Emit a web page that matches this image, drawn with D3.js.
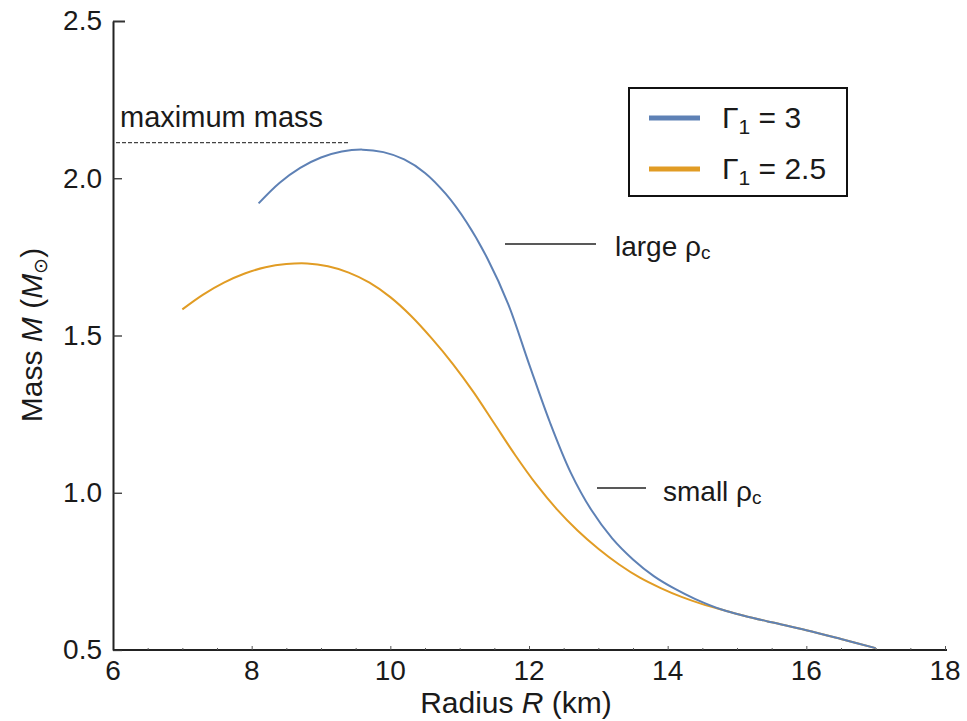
<!DOCTYPE html>
<html>
<head>
<meta charset="utf-8">
<script src="https://cdn.jsdelivr.net/npm/d3@7"></script>
<style>
  body { margin: 0; background: #fff; }
  text { font-family: "Liberation Sans", Arial, sans-serif; fill: #1a1a1a; }
</style>
</head>
<body>
<script>
// mass-radius curves
const gamma3R = [8.1, 8.4, 8.7, 9.0, 9.3, 9.6, 9.9, 10.2, 10.5, 10.8, 11.1, 11.4, 11.7, 12.0, 12.3, 12.6, 12.9, 13.2, 13.5, 13.8, 14.1, 14.4, 14.8, 15.1, 15.5, 16.0, 16.5, 17.0];
const gamma3M = [1.92, 1.985, 2.033, 2.066, 2.085, 2.091, 2.083, 2.06, 2.017, 1.95, 1.86, 1.745, 1.60, 1.41, 1.225, 1.065, 0.945, 0.855, 0.788, 0.735, 0.695, 0.662, 0.627, 0.609, 0.588, 0.563, 0.535, 0.506];

const gamma25R = [7.0, 7.3, 7.6, 7.9, 8.2, 8.5, 8.8, 9.1, 9.4, 9.7, 10.0, 10.3, 10.6, 10.9, 11.2, 11.5, 11.8, 12.1, 12.4, 12.7, 13.0, 13.3, 13.6, 13.9, 14.2, 14.5, 14.8, 15.1, 15.5, 16.0, 16.5, 17.0];
const gamma25M = [1.583, 1.63, 1.668, 1.697, 1.717, 1.727, 1.729, 1.72, 1.70, 1.668, 1.622, 1.562, 1.49, 1.41, 1.32, 1.22, 1.12, 1.028, 0.948, 0.88, 0.822, 0.772, 0.73, 0.697, 0.669, 0.646, 0.627, 0.609, 0.588, 0.563, 0.535, 0.506];

const xTicks = [6, 8, 10, 12, 14, 16, 18];
const yTicks = [0.5, 1.0, 1.5, 2.0, 2.5];
const maxMass = 2.113;

const width = 967, height = 721;
const x = d3.scaleLinear().domain([6, 18]).range([113, 945]);
const y = d3.scaleLinear().domain([0.5, 2.5]).range([650, 21]);

const svg = d3.select("body").append("svg")
    .attr("width", width)
    .attr("height", height);

// axes
const xAxis = svg.append("g").attr("transform", `translate(0, ${y(0.5)})`);
xAxis.call(d3.axisBottom(x).tickValues(d3.range(6, 18.01, 0.5)).tickSizeInner(-2).tickSizeOuter(0).tickFormat(""));
xAxis.selectAll(".tick line").filter(d => d % 2 === 0).attr("y2", -4);
xAxis.select(".domain").attr("stroke", "#222").attr("stroke-width", 2).attr("d", `M${x(6)},0H${x(18) + 2}`);
xAxis.selectAll(".tick line").attr("stroke", "#555");
xAxis.selectAll(".lbl").data(xTicks).enter().append("text")
    .attr("x", d => x(d))
    .attr("y", 30)
    .attr("text-anchor", "middle")
    .style("font-size", "28px")
    .text(d => d);

const yAxis = svg.append("g").attr("transform", `translate(${x(6)}, 0)`);
yAxis.call(d3.axisLeft(y).tickValues(yTicks).tickSize(-9).tickSizeOuter(0).tickFormat(d3.format(".1f")));
yAxis.select(".domain").attr("stroke", "#222").attr("stroke-width", 2);
yAxis.selectAll(".tick line").attr("stroke", "#333").attr("stroke-width", 1.3);
yAxis.selectAll(".tick text")
    .attr("x", -11)
    .style("font-size", "28px")
    .style("font-family", "'Liberation Sans', Arial, sans-serif")
    .attr("fill", "#1a1a1a");
yAxis.selectAll(".tick").filter(d => d === 2.5).select("line").attr("x2", 12).attr("stroke-width", 2);

// axis titles
const xt = svg.append("text")
    .attr("x", 516)
    .attr("y", 713)
    .attr("text-anchor", "middle")
    .style("font-size", "30px");
xt.append("tspan").text("Radius ");
xt.append("tspan").style("font-style", "italic").text("R");
xt.append("tspan").text(" (km)");

const yt = svg.append("text")
    .attr("transform", "translate(42, 335) rotate(-90)")
    .attr("text-anchor", "middle")
    .style("font-size", "30px");
yt.append("tspan").text("Mass ");
yt.append("tspan").style("font-style", "italic").text("M");
yt.append("tspan").text(" (");
yt.append("tspan").style("font-style", "italic").text("M");
yt.append("tspan").attr("dy", 5).style("font-size", "19px").text("\u2299");
yt.append("tspan").attr("dy", -5).text(")");

// curves
const line = d3.line().x(d => x(d[0])).y(d => y(d[1])).curve(d3.curveCatmullRom);
svg.append("path")
    .datum(d3.zip(gamma25R, gamma25M))
    .attr("d", line)
    .attr("fill", "none")
    .attr("stroke", "#e19c24")
    .attr("stroke-width", 2);
svg.append("path")
    .datum(d3.zip(gamma3R, gamma3M))
    .attr("d", line)
    .attr("fill", "none")
    .attr("stroke", "#5e81b5")
    .attr("stroke-width", 2);

// maximum mass marker
svg.append("line")
    .attr("x1", x(6) + 3).attr("x2", 350)
    .attr("y1", y(maxMass)).attr("y2", y(maxMass))
    .attr("stroke", "#444")
    .attr("stroke-width", 1.2)
    .attr("stroke-dasharray", "4,2");
svg.append("text")
    .attr("x", 120).attr("y", 127)
    .style("font-size", "29px")
    .text("maximum mass");

// central density annotations
const notes = [
    {label: "large ", x1: 505, x2: 596, ly: 244, tx: 615, ty: 256},
    {label: "small ", x1: 597, x2: 646, ly: 488, tx: 663, ty: 501}
];
notes.forEach(n => {
    svg.append("line")
        .attr("x1", n.x1).attr("x2", n.x2)
        .attr("y1", n.ly).attr("y2", n.ly)
        .attr("stroke", "#222").attr("stroke-width", 1.3);
    const t = svg.append("text")
        .attr("x", n.tx).attr("y", n.ty)
        .style("font-size", "28px");
    t.append("tspan").text(n.label + "\u03C1");
    t.append("tspan").attr("dy", 3).style("font-size", "19px").text("c");
});

// legend
const legendItems = [
    {name: "3", color: "#5e81b5"},
    {name: "2.5", color: "#e19c24"}
];
const lg = svg.append("g");
lg.append("rect")
    .attr("x", 629).attr("y", 88)
    .attr("width", 218).attr("height", 108)
    .attr("fill", "#fff")
    .attr("stroke", "#111")
    .attr("stroke-width", 2);
legendItems.forEach((d, i) => {
    const cy = 118 + i * 51;
    lg.append("line")
        .attr("x1", 649).attr("x2", 700)
        .attr("y1", cy).attr("y2", cy)
        .attr("stroke", d.color)
        .attr("stroke-width", 5);
    const t = lg.append("text")
        .attr("x", 722).attr("y", cy + 10)
        .style("font-size", "30px");
    t.append("tspan").text("\u0393");
    t.append("tspan").attr("dy", 6).style("font-size", "21px").text("1");
    t.append("tspan").attr("dy", -6).text(" = " + d.name);
});
</script>
</body>
</html>
